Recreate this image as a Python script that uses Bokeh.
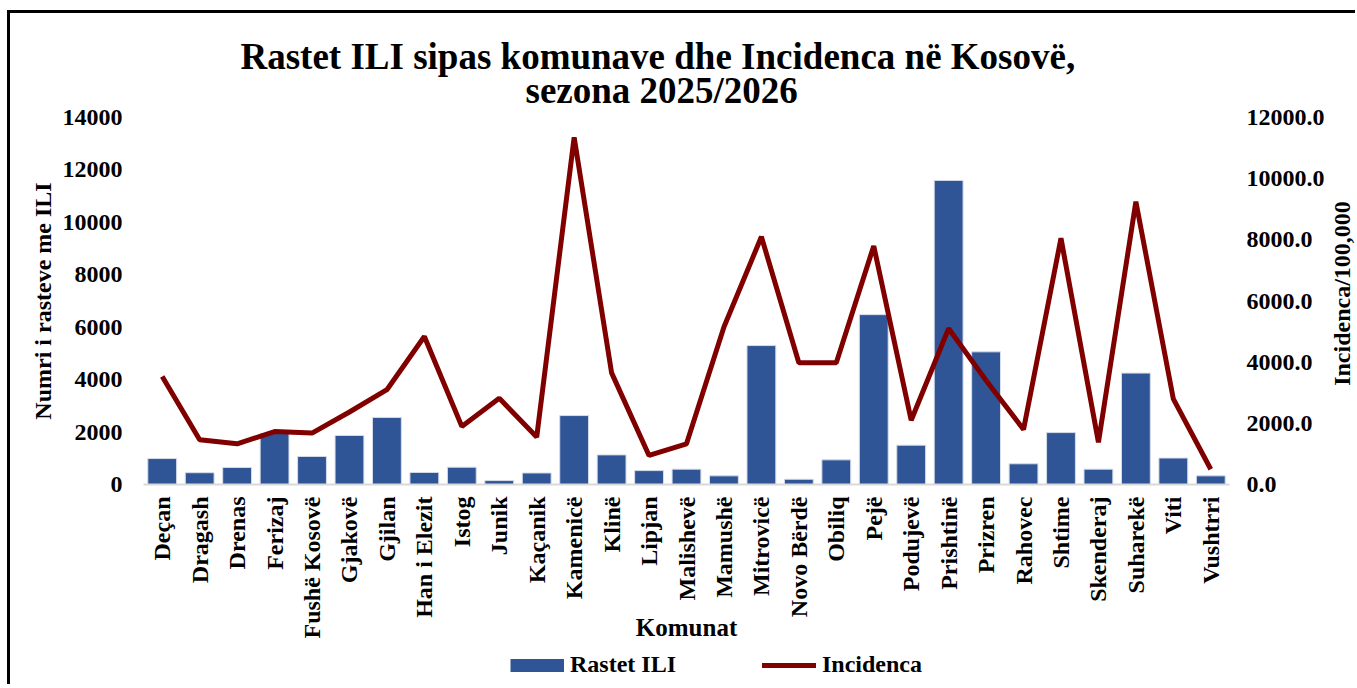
import math
import numpy as np
from bokeh.plotting import figure
from bokeh.layouts import row, column
from bokeh.models import (FactorRange, Range1d, LinearAxis, FixedTicker, NumeralTickFormatter,
                          Legend, LegendItem, Title, Spacer, Label)
from bokeh.embed import file_html
from bokeh.resources import INLINE

categories = ["Deçan", "Dragash", "Drenas", "Ferizaj", "Fushë Kosovë", "Gjakovë", "Gjilan",
              "Han i Elezit", "Istog", "Junik", "Kaçanik", "Kamenicë", "Klinë", "Lipjan",
              "Malishevë", "Mamushë", "Mitrovicë", "Novo Bërdë", "Obiliq", "Pejë", "Podujevë",
              "Prishtinë", "Prizren", "Rahovec", "Shtime", "Skenderaj", "Suharekë", "Viti", "Vushtrri"]
rastet_ili = [990, 450, 650, 1950, 1070, 1870, 2560, 460, 660, 150, 440, 2630, 1130, 530,
              585, 330, 5300, 200, 940, 6480, 1500, 11600, 5060, 790, 1980, 585, 4250, 1010, 330]
incidenca = [3530, 1460, 1330, 1730, 1680, 2370, 3100, 4840, 1900, 2820, 1550, 11350, 3650, 950,
             1330, 5150, 8100, 3980, 3980, 7800, 2100, 5100, 3400, 1800, 8050, 1380, 9250, 2800, 500]
left_ticks = [0, 2000, 4000, 6000, 8000, 10000, 12000, 14000]
right_ticks = [0, 2000, 4000, 6000, 8000, 10000, 12000]

FONT = "Liberation Serif"
BAR_COLOR = "#2F5597"
LINE_COLOR = "#800000"

W_MAIN = 1317
W_RLAB = 28
W = W_MAIN + W_RLAB
H_MAIN = 631
H_LEG = 40
B_LEFT, B_RIGHT, B_TOP, B_BOTTOM = 133, 95, 104, 160

p = figure(width=W_MAIN, height=H_MAIN, x_range=FactorRange(*categories),
           y_range=Range1d(0, 14000), output_backend="svg", toolbar_location=None, title=None,
           min_border_left=B_LEFT, min_border_right=B_RIGHT, min_border_top=B_TOP,
           min_border_bottom=B_BOTTOM)
p.extra_y_ranges = {"inc": Range1d(0, 12000)}
p.outline_line_color = None
p.xgrid.grid_line_color = None
p.ygrid.grid_line_color = None
p.background_fill_color = "white"
p.border_fill_color = "white"

bars = p.vbar(x=categories, top=rastet_ili, width=0.77, fill_color=BAR_COLOR,
              line_color="#D6DCE8", line_width=1)
ln = p.line(x=categories, y=incidenca, y_range_name="inc", line_color=LINE_COLOR, line_width=5)

# titles (second line first: it sits closest to the plot)
t2 = Title(text="sezona 2025/2026", align="left", offset=382, standoff=14,
           text_font=FONT, text_font_style="bold", text_font_size="37px", text_color="black")
t1 = Title(text="Rastet ILI sipas komunave dhe Incidenca në Kosovë,", align="left", offset=97,
           standoff=-32, text_font=FONT, text_font_style="bold", text_font_size="37px",
           text_color="black")
p.add_layout(t2, "above")
p.add_layout(t1, "above")

# x axis
xa = p.xaxis[0]
xa.axis_line_color = "#D9D9D9"
xa.axis_line_width = 2
xa.major_tick_line_color = None
xa.minor_tick_line_color = None
xa.major_tick_out = 0
xa.major_tick_in = 0
xa.major_label_orientation = math.pi / 2
xa.major_label_standoff = 12
xa.major_label_text_font = FONT
xa.major_label_text_font_style = "bold"
xa.major_label_text_font_size = "24px"
xa.major_label_text_color = "black"
xa.axis_label = "Komunat"
xa.axis_label_standoff = -28
xa.axis_label_text_font = FONT
xa.axis_label_text_font_style = "bold"
xa.axis_label_text_font_size = "25px"
xa.axis_label_text_color = "black"

# left axis
ya = p.yaxis[0]
ya.ticker = FixedTicker(ticks=left_ticks)
ya.axis_line_color = None
ya.major_tick_line_color = None
ya.minor_tick_line_color = None
ya.major_tick_out = 0
ya.major_tick_in = 0
ya.major_label_standoff = 21
ya.major_label_text_font = FONT
ya.major_label_text_font_style = "bold"
ya.major_label_text_font_size = "24px"
ya.major_label_text_color = "black"
ya.axis_label = "Numri i rasteve me ILI"
ya.axis_label_standoff = 4
ya.axis_label_text_font = FONT
ya.axis_label_text_font_style = "bold"
ya.axis_label_text_font_size = "24px"
ya.axis_label_text_color = "black"

# right axis (ticks only; its title sits in the narrow strip next to it)
ra = LinearAxis(y_range_name="inc", ticker=FixedTicker(ticks=right_ticks),
                formatter=NumeralTickFormatter(format="0.0"))
ra.axis_line_color = None
ra.major_tick_line_color = None
ra.minor_tick_line_color = None
ra.major_tick_out = 0
ra.major_tick_in = 0
ra.major_label_standoff = 17
ra.major_label_text_font = FONT
ra.major_label_text_font_style = "bold"
ra.major_label_text_font_size = "24px"
ra.major_label_text_color = "black"
p.add_layout(ra, "right")

# narrow strip carrying the right-axis title, read bottom to top
pr = figure(width=W_RLAB, height=H_MAIN, x_range=Range1d(0, 1), y_range=Range1d(0, 1),
            output_backend="svg", toolbar_location=None, title=None,
            x_axis_type=None, y_axis_type=None, min_border_left=0, min_border_right=0,
            min_border_top=B_TOP, min_border_bottom=B_BOTTOM)
pr.outline_line_color = None
pr.xgrid.grid_line_color = None
pr.ygrid.grid_line_color = None
pr.add_layout(Label(x=14, y=191, x_units="screen", y_units="screen", text="Incidenca/100,000",
                    angle=math.pi / 2, text_align="center", text_baseline="middle",
                    text_font=FONT, text_font_style="bold", text_font_size="24px",
                    text_color="black"))

# legend strip below the chart
pl = figure(width=W_MAIN, height=H_LEG, x_range=Range1d(0, 1), y_range=Range1d(0, 1),
            output_backend="svg", toolbar_location=None, title=None,
            x_axis_type=None, y_axis_type=None, min_border_left=B_LEFT,
            min_border_right=B_RIGHT, min_border_top=0, min_border_bottom=0)
pl.outline_line_color = None
pl.xgrid.grid_line_color = None
pl.ygrid.grid_line_color = None
nan = np.array([np.nan])
leg_bar = pl.line(x=np.array([0.5]), y=nan, line_color=BAR_COLOR, line_width=13, line_cap="butt")
leg_line = pl.line(x=np.array([0.5]), y=nan, line_color=LINE_COLOR, line_width=5,
                   line_cap="round")
legend = Legend(items=[LegendItem(label="Rastet ILI", renderers=[leg_bar]),
                       LegendItem(label="Incidenca", renderers=[leg_line])],
                orientation="horizontal", location=(367, 6),
                label_text_font=FONT, label_text_font_style="bold", label_text_font_size="24px",
                label_text_color="black", glyph_width=54, glyph_height=14, spacing=86,
                label_standoff=6, border_line_color=None, background_fill_alpha=0,
                padding=0, margin=0)
pl.add_layout(legend, "center")

top_line = Spacer(width=W + 3, height=3, styles={"background-color": "black"})
left_line = Spacer(width=3, height=H_MAIN + H_LEG, styles={"background-color": "black"})
chart = column(row(p, pr, spacing=0), pl, spacing=0)
inner = row(left_line, chart, spacing=0)
outer = column(Spacer(width=10, height=10), top_line, inner, spacing=0)
page = row(Spacer(width=7, height=10), outer, spacing=0)

open("out.html", "w").write(file_html(page, INLINE))
